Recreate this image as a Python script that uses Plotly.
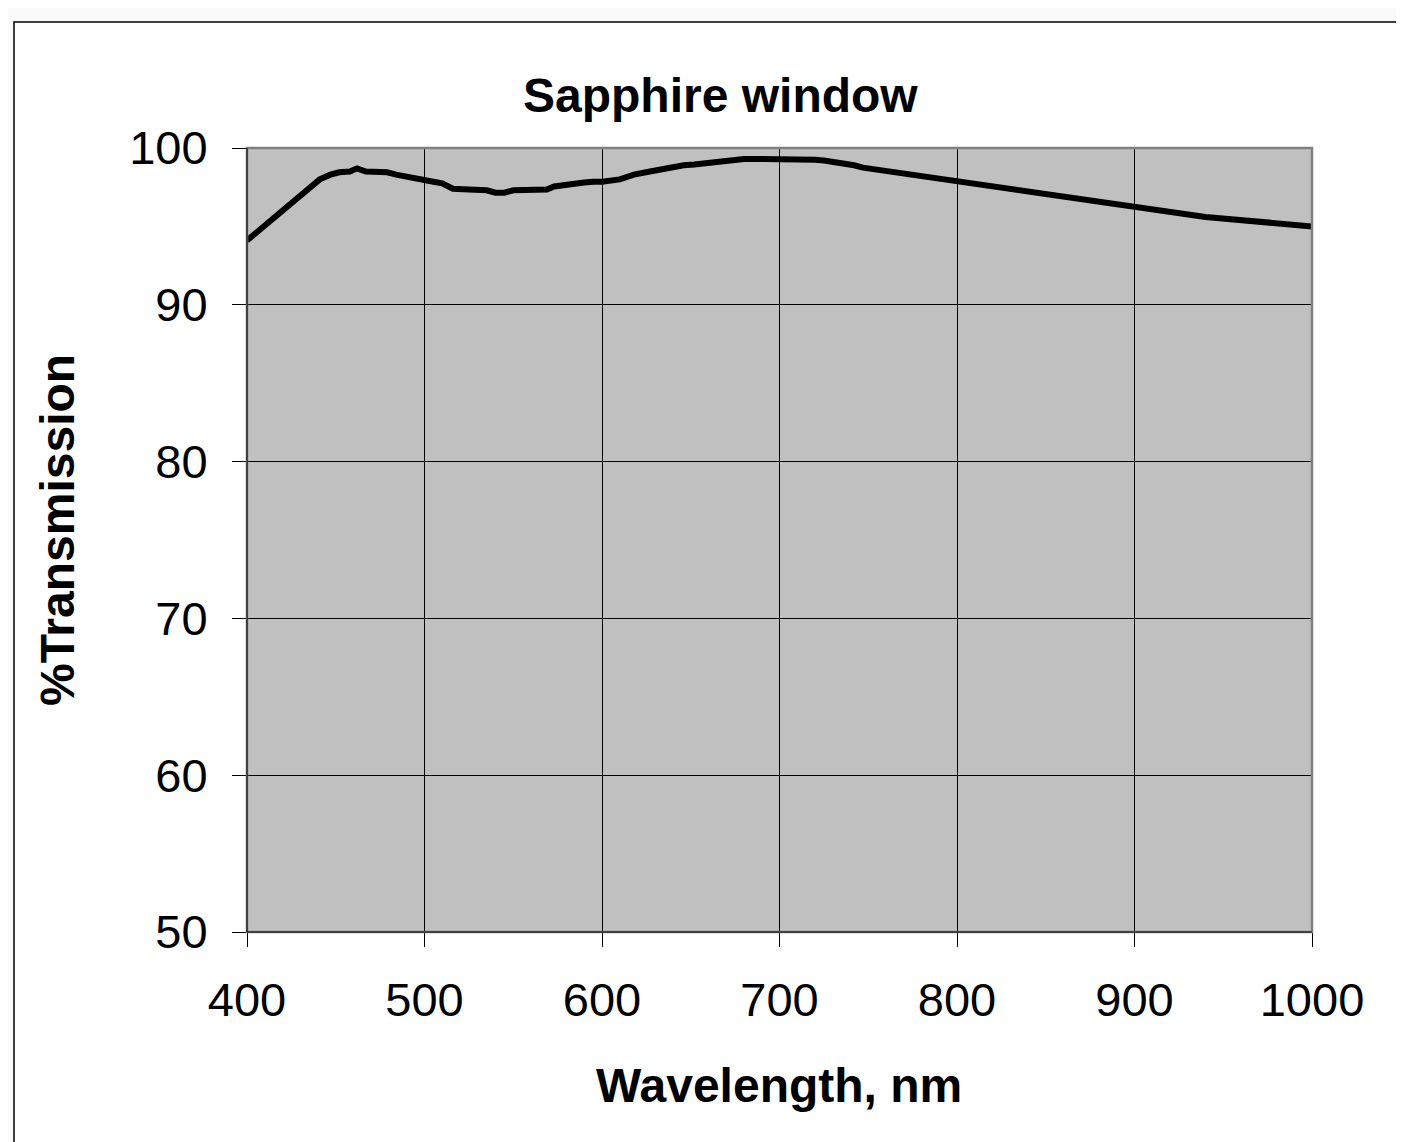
import plotly.graph_objects as go

wavelength = [400, 436, 441, 447, 452, 458, 462, 467, 473, 479, 484, 488, 496, 505,
              510, 516, 525, 535, 540, 545, 550, 560, 569, 573, 584, 590, 595, 600,
              610, 618, 627, 635, 646, 652, 657, 662, 668, 673, 680, 690, 698, 710,
              720, 725, 732, 738, 742, 747, 750, 800, 900, 940, 1000]
transmission = [94.1, 97.6, 98.0, 98.3, 98.45, 98.5, 98.7, 98.5, 98.45, 98.45, 98.3, 98.2, 98.0, 97.85,
                97.75, 97.4, 97.35, 97.3, 97.15, 97.15, 97.3, 97.35, 97.35, 97.55, 97.65, 97.8, 97.85, 97.85,
                98.0, 98.3, 98.5, 98.7, 98.9, 98.95, 99.0, 99.05, 99.2, 99.25, 99.3, 99.3, 99.3, 99.3,
                99.25, 99.2, 99.1, 99.05, 98.9, 98.75, 98.7, 97.9, 96.3, 95.6, 95.0]

x_ticks = [400, 500, 600, 700, 800, 900, 1000]
y_ticks = [50, 60, 70, 80, 90, 100]

title_text = "Sapphire window"
x_title = "Wavelength, nm"
y_title = "%Transmission"

FONT = "Liberation Sans, Arial, sans-serif"
W, H = 1404, 1142
OFF = 8  # page body margin
L, R, T, B = 247 - OFF, 1312 - OFF, 148 - OFF, 932 - OFF

fig = go.Figure()
fig.add_trace(go.Scatter(x=wavelength, y=transmission, mode="lines",
                         line=dict(color="black", width=6), showlegend=False,
                         hoverinfo="x+y"))

def px_x(p):
    return (p - OFF - L) / (R - L)

def px_y(p):
    return (B - (p - OFF)) / (B - T)

fig.update_layout(
    width=W, height=H,
    margin=dict(l=L, r=W - R, t=T, b=H - B, autoexpand=False),
    paper_bgcolor="#fafafa",
    plot_bgcolor="#c0c0c0",
    font=dict(family=FONT, color="black", size=47),
    xaxis=dict(range=[400, 1000], tickvals=x_ticks, ticktext=[str(v) for v in x_ticks],
               showgrid=True, gridcolor="black", gridwidth=1,
               showline=True, linecolor="black", linewidth=1,
               ticks="outside", ticklen=14, tickcolor="black", tickwidth=1,
               ticklabelstandoff=13,
               tickfont=dict(size=47, family=FONT), zeroline=False, fixedrange=True),
    yaxis=dict(range=[50, 100], tickvals=y_ticks, ticktext=[str(v) for v in y_ticks],
               showgrid=True, gridcolor="black", gridwidth=1,
               showline=True, linecolor="black", linewidth=1,
               ticks="outside", ticklen=14, tickcolor="black", tickwidth=1,
               ticklabelstandoff=15,
               tickfont=dict(size=47, family=FONT), zeroline=False, fixedrange=True),
    shapes=[
        dict(type="rect", xref="paper", yref="paper", layer="below",
             x0=px_x(14), x1=px_x(1500), y0=px_y(1300), y1=px_y(22),
             fillcolor="white", line=dict(color="black", width=1.5)),
        dict(type="rect", xref="paper", yref="paper", layer="below",
             x0=0, x1=1, y0=0, y1=1, fillcolor="#c0c0c0", line=dict(width=0)),
        dict(type="rect", xref="paper", yref="paper", layer="above",
             x0=0, x1=1, y0=0, y1=1, line=dict(color="#808080", width=2.5)),
    ],
    annotations=[
        dict(text="<b>" + title_text + "</b>", xref="paper", yref="paper",
             x=px_x(720), y=px_y(95), showarrow=False, xanchor="center", yanchor="middle",
             font=dict(size=48, family=FONT)),
        dict(text="<b>" + x_title + "</b>", xref="paper", yref="paper",
             x=px_x(779), y=px_y(1085), showarrow=False, xanchor="center", yanchor="middle",
             font=dict(size=48, family=FONT)),
        dict(text="<b>" + y_title + "</b>", xref="paper", yref="paper",
             x=px_x(57), y=px_y(530), showarrow=False, xanchor="center", yanchor="middle",
             textangle=-90, font=dict(size=48, family=FONT)),
    ],
)
fig.add_shape(type="line", xref="paper", yref="paper", x0=0, x1=0, y0=0, y1=1,
              line=dict(color="black", width=1), layer="above")
fig.add_shape(type="line", xref="paper", yref="paper", x0=0, x1=1, y0=0, y1=0,
              line=dict(color="black", width=1), layer="above")

fig.write_html("out.html")
